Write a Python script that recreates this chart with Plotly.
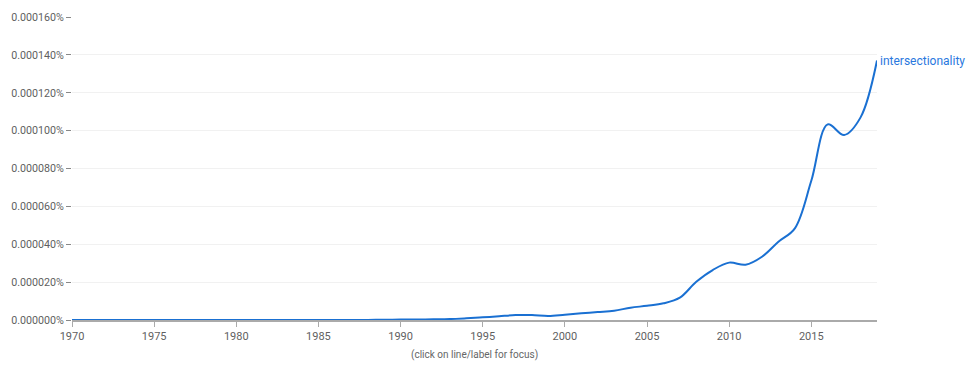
import plotly.graph_objects as go

years = [1970, 1971, 1972, 1973, 1974, 1975, 1976, 1977, 1978, 1979,
         1980, 1981, 1982, 1983, 1984, 1985, 1986, 1987, 1988, 1989,
         1990, 1991, 1992, 1993, 1994, 1995, 1996, 1997, 1998, 1999,
         2000, 2001, 2002, 2003, 2004, 2005, 2006, 2007, 2008, 2009,
         2010, 2011, 2012, 2013, 2014, 2015, 2016, 2017, 2018, 2019]

# frequency in percent
intersectionality = [
    0.0, 0.0, 0.0, 0.0, 0.0, 0.0, 0.0, 0.0, 0.0, 0.0,
    0.0, 0.0, 0.0, 0.0, 0.0, 0.0, 0.0, 0.0, 0.00000005, 0.0000001,
    0.0000002, 0.00000025, 0.00000035, 0.0000005, 0.0000009, 0.0000014, 0.000002, 0.0000026, 0.0000026, 0.0000021,
    0.0000028, 0.0000035, 0.0000042, 0.0000049, 0.0000065, 0.0000075, 0.0000088, 0.0000118, 0.0000202, 0.0000264,
    0.0000303, 0.0000292, 0.0000334, 0.0000413, 0.0000484, 0.0000735, 0.0001033, 0.0000977, 0.000107, 0.000137,
]

series_name = "intersectionality"
y_ticks = [0, 0.00002, 0.00004, 0.00006, 0.00008, 0.0001, 0.00012, 0.00014, 0.00016]
x_ticks = [1970, 1975, 1980, 1985, 1990, 1995, 2000, 2005, 2010, 2015]

LINE = "#1a70d2"
GRAY = "#5f5f5f"

fig = go.Figure()
fig.add_trace(go.Scatter(
    x=years, y=intersectionality, mode="lines", name=series_name,
    line=dict(color=LINE, width=2, shape="spline", smoothing=1.0),
    showlegend=False,
))

fig.add_annotation(
    x=years[-1], y=intersectionality[-1], text=series_name,
    xref="x", yref="y", xanchor="left", yanchor="middle",
    xshift=1, showarrow=False,
    font=dict(family="Roboto, Arial, sans-serif", size=12, color="#2a78de"),
)

fig.add_annotation(
    x=0.5, y=-0.115, xref="paper", yref="paper", text="(click on line/label for focus)",
    showarrow=False, xanchor="center", yanchor="middle",
    font=dict(family="Roboto, Arial, sans-serif", size=10, color="#666666"),
)

fig.update_layout(
    width=967, height=361,
    margin=dict(l=64, r=98, t=9, b=49, autoexpand=False),
    paper_bgcolor="white", plot_bgcolor="white",
    font=dict(family="Roboto, Arial, sans-serif", size=11, color=GRAY),
    xaxis=dict(
        range=[1970, 2019], tickvals=x_ticks, ticktext=[str(v) for v in x_ticks],
        showgrid=False, zeroline=False, showline=True, linecolor="#aaaaaa", linewidth=2,
        ticks="outside", ticklen=5, tickcolor="#aaaaaa", tickwidth=1,
        tickfont=dict(size=11, color=GRAY), automargin=False,
    ),
    yaxis=dict(
        range=[0, 0.00016], tickvals=y_ticks,
        ticktext=[f"{v * 1:.6f}%" for v in y_ticks],
        showgrid=True, gridcolor="#f1f1f1", gridwidth=1,
        zeroline=False, showline=False,
        ticks="outside", ticklen=5, tickcolor="#888888", tickwidth=1,
        tickfont=dict(size=10.7, color=GRAY), automargin=False,
    ),
)

fig.write_html("out.html")
